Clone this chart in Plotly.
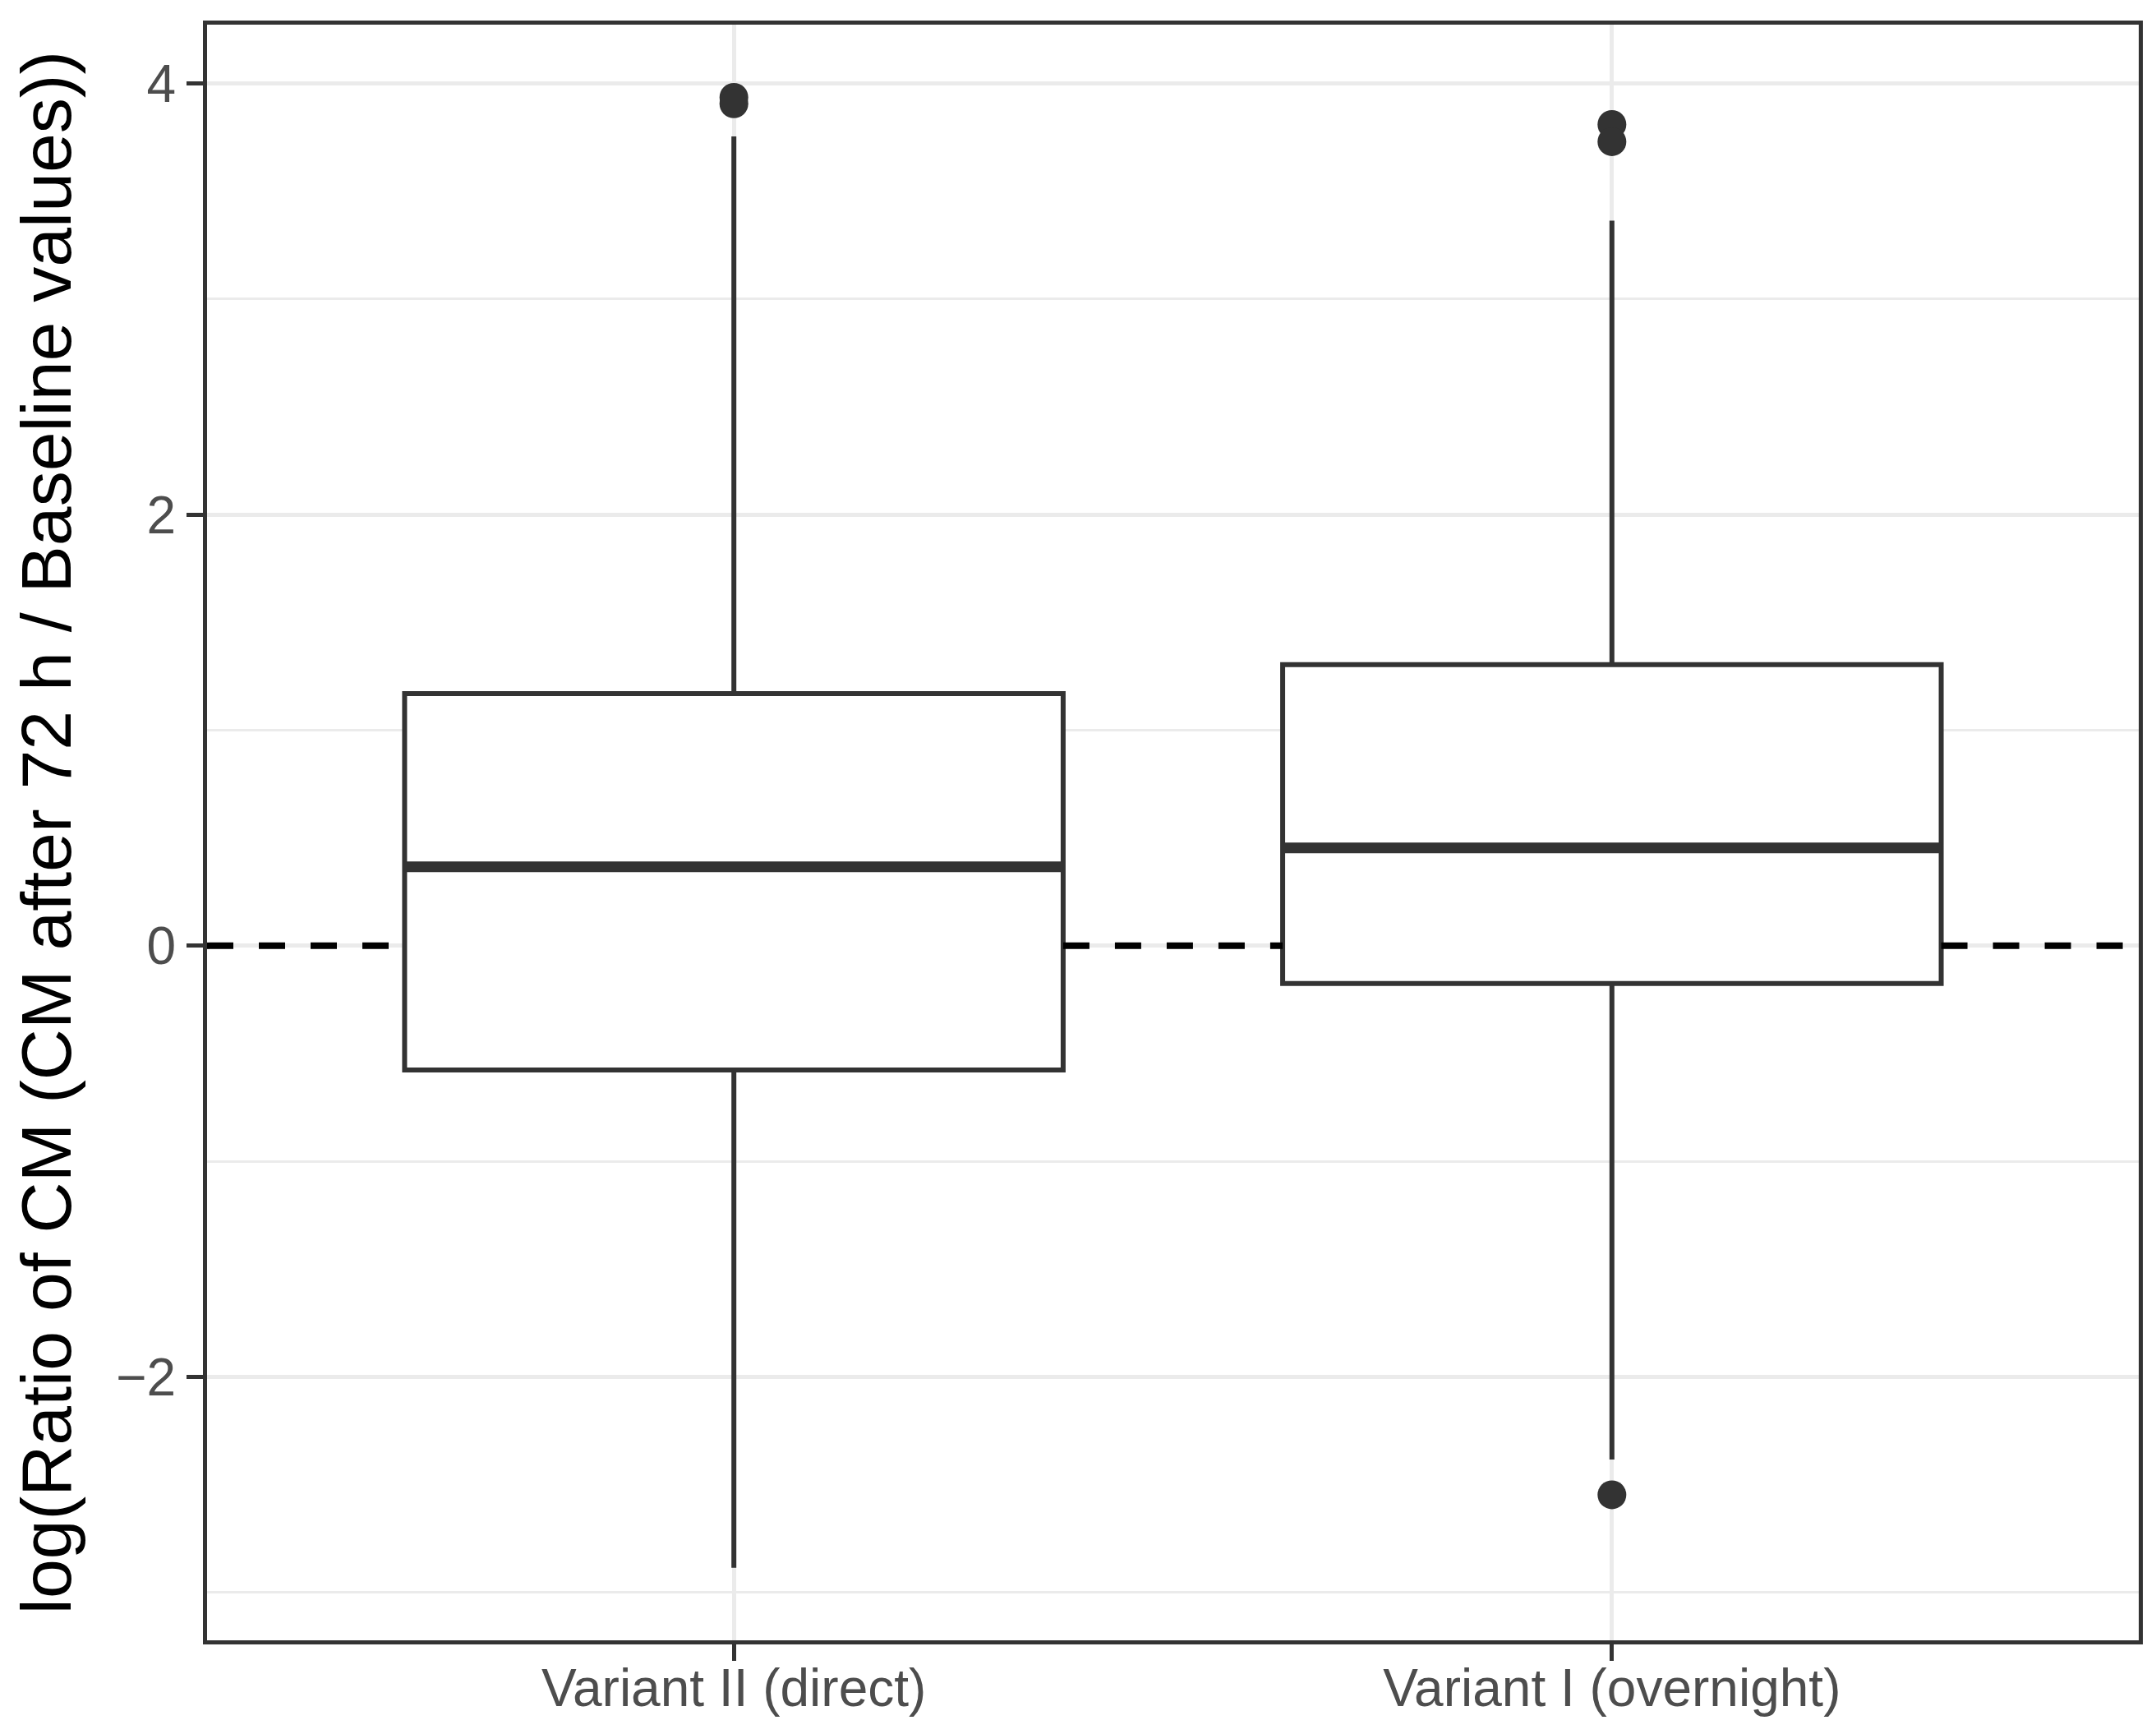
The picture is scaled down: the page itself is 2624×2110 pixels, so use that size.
import plotly.graph_objects as go

# values
categories = ["Variant II (direct)", "Variant I (overnight)"]
q1 = [-0.576, -0.175]
median = [0.366, 0.454]
q3 = [1.17, 1.304]
lower_whisker = [-2.886, -2.383]
upper_whisker = [3.755, 3.364]
outliers = [[3.936, 3.906], [3.81, 3.73, -2.547]]
ref_line = 0
y_ticks = [-2, 0, 2, 4]
y_title = "log(Ratio of CM (CM after 72 h / Baseline values))"

DARK = "#333333"
GRID = "#EBEBEB"
FONT = "Liberation Sans"
box_w = 0.75
pos = list(range(1, len(categories) + 1))
x_range = [0.4, len(categories) + 0.6]

fig = go.Figure()

# dashed reference line, only in the gaps between the boxes (boxes sit on top of it)
xs, ys = [], []
edges = [x_range[0]]
for p in pos:
    edges += [p - box_w / 2, p + box_w / 2]
edges.append(x_range[1])
for a, b in zip(edges[::2], edges[1::2]):
    xs += [a, b, None]
    ys += [ref_line, ref_line, None]
fig.add_trace(go.Scatter(x=xs, y=ys, mode="lines",
                         line=dict(color="black", width=8, dash="32px,31px"),
                         showlegend=False, hoverinfo="skip"))

for i, p in enumerate(pos):
    fig.add_trace(go.Box(
        x=[p], q1=[q1[i]], median=[median[i]], q3=[q3[i]],
        lowerfence=[lower_whisker[i]], upperfence=[upper_whisker[i]],
        width=box_w, whiskerwidth=0, fillcolor="white",
        line=dict(color=DARK, width=6), boxpoints=False,
        showlegend=False, hoverinfo="skip"))
    # thicker median bar, like ggplot
    fig.add_trace(go.Scatter(
        x=[p - box_w / 2, p + box_w / 2], y=[median[i], median[i]],
        mode="lines", line=dict(color=DARK, width=13),
        showlegend=False, hoverinfo="skip"))
    fig.add_trace(go.Scatter(
        x=[p] * len(outliers[i]), y=outliers[i], mode="markers",
        marker=dict(color=DARK, size=35, line=dict(width=0)),
        showlegend=False, hoverinfo="skip"))

fig.update_layout(
    width=2624, height=2110,
    margin=dict(l=244, r=29, t=22, b=122),
    plot_bgcolor="white", paper_bgcolor="white",
    font=dict(family=FONT, color="#4D4D4D", size=64),
)
fig.update_xaxes(
    range=x_range, tickvals=pos, ticktext=categories,
    showgrid=True, gridcolor=GRID, gridwidth=5, zeroline=False,
    showline=True, mirror=True, linecolor=DARK, linewidth=5,
    ticks="outside", ticklen=20, tickwidth=5, tickcolor=DARK,
    tickfont=dict(family=FONT, size=64, color="#4D4D4D"),
    ticklabelstandoff=-22, automargin=False,
)
fig.update_yaxes(
    range=[-3.222, 4.273], tickvals=y_ticks,
    showgrid=True, gridcolor=GRID, gridwidth=5, zeroline=False,
    minor=dict(dtick=1, tick0=1, showgrid=True, gridcolor=GRID, gridwidth=2.5, ticks=""),
    showline=True, mirror=True, linecolor=DARK, linewidth=5,
    ticks="outside", ticklen=20, tickwidth=5, tickcolor=DARK,
    tickfont=dict(family=FONT, size=64, color="#4D4D4D"),
    ticklabelstandoff=0, automargin=False,
    title=dict(text=y_title, font=dict(family=FONT, size=86, color="black"), standoff=36),
)

fig.write_html("out.html")
